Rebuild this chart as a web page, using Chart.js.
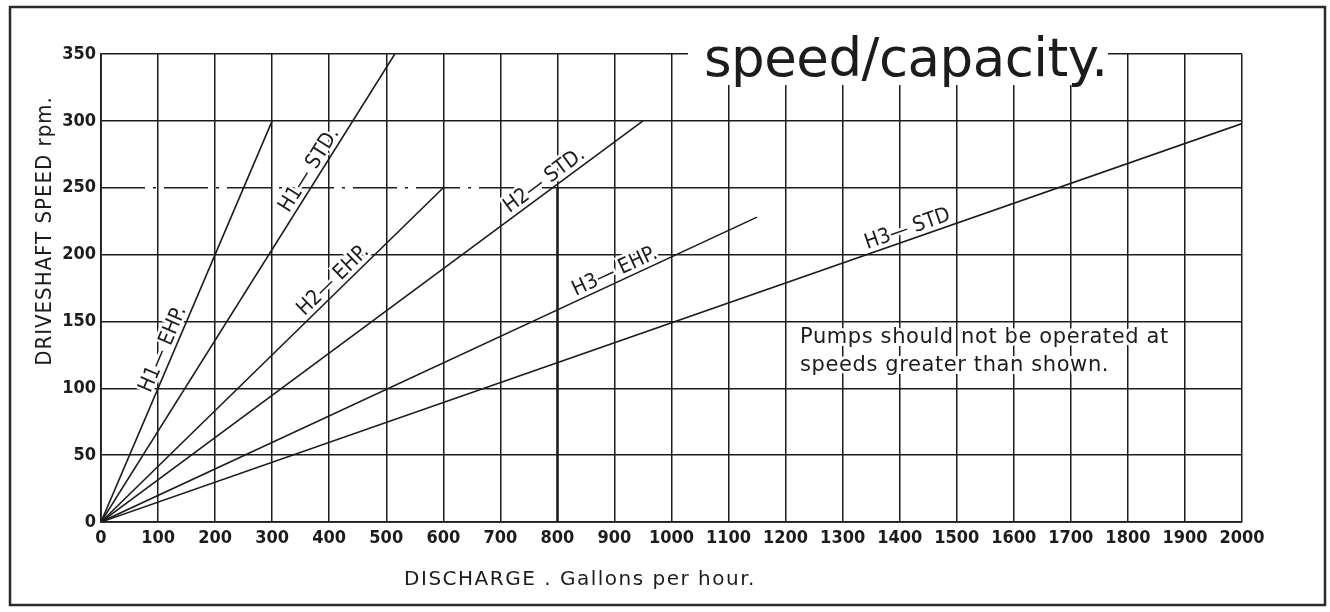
<!DOCTYPE html>
<html>
<head>
<meta charset="utf-8">
<script src="https://cdn.jsdelivr.net/npm/chart.js@4.4.1/dist/chart.umd.min.js"></script>
<style>
  html, body { margin: 0; padding: 0; background: #fff; }
  #wrap { width: 1330px; height: 612px; }
</style>
</head>
<body>
<div id="wrap"><canvas id="speedChart" width="1330" height="612"></canvas></div>
<script>
// ==========================================
// DATA
// ==========================================

// pump models, each is a straight line from 0,0 to its max point
const curveNames = ['H1\u2014 EHP.', 'H1\u2014 STD.', 'H2\u2014 EHP.', 'H2\u2014 STD.', 'H3\u2014 EHP.', 'H3\u2014 STD'];
const maxDischarge = [300, 515, 600, 950, 1150, 2000];   // gallons per hour
const maxSpeed = [300, 350, 250, 300, 228, 298];          // rpm

// where the label sits along each line (0 = origin, 1 = end)
const labelAt = [0.42, 0.74, 0.70, 0.83, 0.79, 0.71];

// the dash-dot reference line at 250 rpm and the heavy 800 gph line
const refSpeed = 250;
const refDischarge = 800;

// axes
const xTicks = [0, 100, 200, 300, 400, 500, 600, 700, 800, 900, 1000, 1100, 1200, 1300, 1400, 1500, 1600, 1700, 1800, 1900, 2000];
const yTicks = [0, 50, 100, 150, 200, 250, 300, 350];

const titleText = 'speed/capacity.';
const noteLines = ['Pumps should not be operated at', 'speeds greater than shown.'];
const xTitle = 'DISCHARGE . Gallons per hour.';
const yTitle = 'DRIVESHAFT SPEED rpm.';

// ==========================================
// STYLE
// ==========================================
const INK = '#1c1c1c';
const COND = "'DejaVu Sans Condensed', 'DejaVu Sans', sans-serif";
const PLAIN = "'DejaVu Sans', sans-serif";

// ==========================================
// DATASETS
// ==========================================
const datasets = curveNames.map((name, i) => ({
    label: name,
    data: [{ x: 0, y: 0 }, { x: maxDischarge[i], y: maxSpeed[i] }],
    borderColor: INK,
    borderWidth: 1.6,
    pointRadius: 0,
    fill: false
}));

// 250 rpm line: dash-dot to 800, solid after
datasets.push({
    label: 'ref dash',
    data: [{ x: xTicks[0], y: refSpeed }, { x: refDischarge, y: refSpeed }],
    borderColor: INK, borderWidth: 1.6, borderDash: [44, 8, 3, 8], pointRadius: 0
});
datasets.push({
    label: 'ref solid',
    data: [{ x: refDischarge, y: refSpeed }, { x: xTicks[xTicks.length - 1], y: refSpeed }],
    borderColor: INK, borderWidth: 1.6, pointRadius: 0
});
// heavier 800 gph line below 250 rpm
datasets.push({
    label: 'ref 800',
    data: [{ x: refDischarge, y: 0 }, { x: refDischarge, y: refSpeed }],
    borderColor: INK, borderWidth: 2.4, pointRadius: 0
});

// ==========================================
// PLUGIN: frame, titles, labels, note
// ==========================================
const drawingPlugin = {
    id: 'drawing',
    beforeDraw(chart) {
        const ctx = chart.ctx;
        ctx.save();
        ctx.fillStyle = '#fff';
        ctx.fillRect(0, 0, chart.width, chart.height);
        ctx.restore();
    },
    afterDatasetsDraw(chart) {
        const ctx = chart.ctx;
        const xs = chart.scales.x, ys = chart.scales.y;

        // line labels
        ctx.save();
        ctx.font = '21px ' + COND;
        ctx.textAlign = 'center';
        ctx.textBaseline = 'alphabetic';
        curveNames.forEach((name, i) => {
            const x0 = xs.getPixelForValue(0), y0 = ys.getPixelForValue(0);
            const x1 = xs.getPixelForValue(maxDischarge[i]), y1 = ys.getPixelForValue(maxSpeed[i]);
            const ang = Math.atan2(y1 - y0, x1 - x0);
            const px = x0 + (x1 - x0) * labelAt[i];
            const py = y0 + (y1 - y0) * labelAt[i];
            ctx.save();
            ctx.translate(px, py);
            ctx.rotate(ang);
            ctx.lineWidth = 5;
            ctx.strokeStyle = '#fff';
            ctx.strokeText(name, 0, -5);
            ctx.fillStyle = INK;
            ctx.fillText(name, 0, -5);
            ctx.restore();
        });
        ctx.restore();
    },
    afterDraw(chart) {
        const ctx = chart.ctx;
        ctx.save();

        // outer frame
        ctx.strokeStyle = '#2a2a2a';
        ctx.lineWidth = 2.5;
        ctx.strokeRect(10, 7, 1315, 598);

        // big title on a white patch
        ctx.fillStyle = '#fff';
        ctx.fillRect(688, 22, 420, 63);
        ctx.fillStyle = INK;
        ctx.font = '53px ' + PLAIN;
        ctx.letterSpacing = '-0.5px';
        ctx.textAlign = 'left';
        ctx.textBaseline = 'alphabetic';
        ctx.fillText(titleText, 704, 76);

        // note
        ctx.font = '21px ' + PLAIN;
        ctx.letterSpacing = '0.6px';
        ctx.lineWidth = 6;
        ctx.strokeStyle = '#fff';
        noteLines.forEach((t, i) => {
            ctx.strokeText(t, 800, 343 + i * 28);
            ctx.fillText(t, 800, 343 + i * 28);
        });

        // axis titles
        ctx.font = '20px ' + PLAIN;
        ctx.letterSpacing = '1.5px';
        ctx.textAlign = 'center';
        ctx.textBaseline = 'middle';
        ctx.fillText(xTitle, 580, 580);

        ctx.save();
        ctx.translate(45, 231);
        ctx.rotate(-Math.PI / 2);
        ctx.font = '22px ' + COND;
        ctx.letterSpacing = '1px';
        ctx.fillText(yTitle, 0, 0);
        ctx.restore();

        ctx.restore();
    }
};

// ==========================================
// CHART
// ==========================================
const ctx = document.getElementById('speedChart').getContext('2d');
new Chart(ctx, {
    type: 'line',
    data: { datasets: datasets },
    options: {
        responsive: false,
        animation: false,
        events: [],
        layout: { padding: { top: 54, right: 88, left: 0, bottom: 0 } },
        plugins: { legend: { display: false }, tooltip: { enabled: false } },
        scales: {
            x: {
                type: 'linear',
                min: xTicks[0],
                max: xTicks[xTicks.length - 1],
                afterBuildTicks: (s) => { s.ticks = xTicks.map(v => ({ value: v })); },
                afterFit: (s) => { s.height = 90; },
                ticks: {
                    color: INK, font: { family: COND, size: 18, weight: 'bold' }, padding: 6,
                    maxRotation: 0, autoSkip: false,
                    callback: (v) => String(v)
                },
                grid: { color: INK, lineWidth: 1.5, drawTicks: false },
                border: { color: INK, width: 1.8 }
            },
            y: {
                type: 'linear',
                min: yTicks[0],
                max: yTicks[yTicks.length - 1],
                afterBuildTicks: (s) => { s.ticks = yTicks.map(v => ({ value: v })); },
                afterFit: (s) => { s.width = 101; },
                ticks: {
                    color: INK, font: { family: COND, size: 18, weight: 'bold' }, padding: 5, autoSkip: false,
                    callback: (v) => String(v)
                },
                grid: {
                    color: (c) => (c.tick && c.tick.value === refSpeed) ? 'rgba(0,0,0,0)' : INK,
                    lineWidth: 1.5,
                    drawTicks: false
                },
                border: { color: INK, width: 1.8 }
            }
        }
    },
    plugins: [drawingPlugin]
});
</script>
</body>
</html>
